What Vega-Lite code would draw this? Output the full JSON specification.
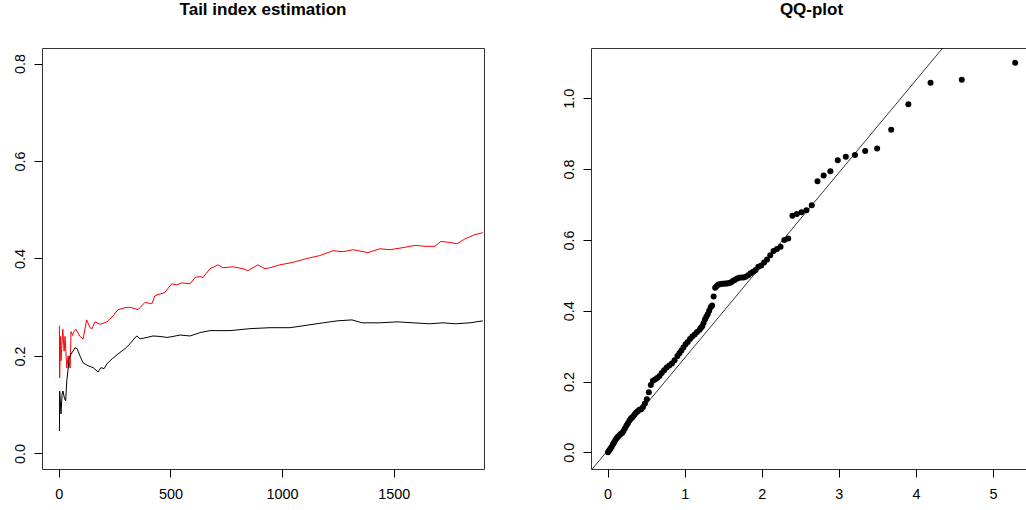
{
  "$schema": "https://vega.github.io/schema/vega-lite/v6.json",
  "autosize": {"type": "none"},
  "padding": {"left": 42, "top": 48, "right": 984, "bottom": 462},
  "background": "white",
  "spacing": 107,
  "bounds": "flush",
  "config": {
    "view": {"stroke": "#333333", "strokeWidth": 1},
    "font": "Liberation Sans",
    "axis": {
      "grid": false,
      "domain": false,
      "ticks": true,
      "tickColor": "#000000",
      "tickSize": 8,
      "labelColor": "#000000",
      "labelFont": "Liberation Sans",
      "labelFontSize": 14.4,
      "labelPadding": 10,
      "title": null
    },
    "title": {"font": "Liberation Sans", "fontSize": 17, "fontWeight": "bold", "color": "#000000", "anchor": "middle", "baseline": "alphabetic", "offset": 29}
  },
  "datasets": {
    "tail": [
      {"k": 3, "xi": 0.262, "series": "red"},
      {"k": 4, "xi": 0.155, "series": "red"},
      {"k": 8, "xi": 0.24, "series": "red"},
      {"k": 10, "xi": 0.19, "series": "red"},
      {"k": 18, "xi": 0.255, "series": "red"},
      {"k": 24, "xi": 0.21, "series": "red"},
      {"k": 28, "xi": 0.24, "series": "red"},
      {"k": 36, "xi": 0.175, "series": "red"},
      {"k": 42, "xi": 0.2, "series": "red"},
      {"k": 51, "xi": 0.175, "series": "red"},
      {"k": 55, "xi": 0.25, "series": "red"},
      {"k": 62, "xi": 0.242, "series": "red"},
      {"k": 68, "xi": 0.25, "series": "red"},
      {"k": 77, "xi": 0.255, "series": "red"},
      {"k": 95, "xi": 0.24, "series": "red"},
      {"k": 109, "xi": 0.235, "series": "red"},
      {"k": 125, "xi": 0.274, "series": "red"},
      {"k": 140, "xi": 0.258, "series": "red"},
      {"k": 149, "xi": 0.256, "series": "red"},
      {"k": 162, "xi": 0.27, "series": "red"},
      {"k": 185, "xi": 0.265, "series": "red"},
      {"k": 216, "xi": 0.27, "series": "red"},
      {"k": 243, "xi": 0.282, "series": "red"},
      {"k": 265, "xi": 0.295, "series": "red"},
      {"k": 297, "xi": 0.299, "series": "red"},
      {"k": 319, "xi": 0.3, "series": "red"},
      {"k": 355, "xi": 0.295, "series": "red"},
      {"k": 386, "xi": 0.31, "series": "red"},
      {"k": 417, "xi": 0.307, "series": "red"},
      {"k": 431, "xi": 0.324, "series": "red"},
      {"k": 474, "xi": 0.33, "series": "red"},
      {"k": 506, "xi": 0.348, "series": "red"},
      {"k": 528, "xi": 0.346, "series": "red"},
      {"k": 552, "xi": 0.35, "series": "red"},
      {"k": 588, "xi": 0.348, "series": "red"},
      {"k": 610, "xi": 0.361, "series": "red"},
      {"k": 633, "xi": 0.363, "series": "red"},
      {"k": 646, "xi": 0.361, "series": "red"},
      {"k": 677, "xi": 0.379, "series": "red"},
      {"k": 713, "xi": 0.387, "series": "red"},
      {"k": 735, "xi": 0.381, "series": "red"},
      {"k": 780, "xi": 0.383, "series": "red"},
      {"k": 825, "xi": 0.379, "series": "red"},
      {"k": 847, "xi": 0.375, "series": "red"},
      {"k": 892, "xi": 0.387, "series": "red"},
      {"k": 923, "xi": 0.379, "series": "red"},
      {"k": 945, "xi": 0.381, "series": "red"},
      {"k": 990, "xi": 0.387, "series": "red"},
      {"k": 1048, "xi": 0.392, "series": "red"},
      {"k": 1111, "xi": 0.4, "series": "red"},
      {"k": 1169, "xi": 0.406, "series": "red"},
      {"k": 1228, "xi": 0.416, "series": "red"},
      {"k": 1273, "xi": 0.414, "series": "red"},
      {"k": 1317, "xi": 0.418, "series": "red"},
      {"k": 1384, "xi": 0.412, "series": "red"},
      {"k": 1438, "xi": 0.42, "series": "red"},
      {"k": 1483, "xi": 0.418, "series": "red"},
      {"k": 1550, "xi": 0.423, "series": "red"},
      {"k": 1595, "xi": 0.427, "series": "red"},
      {"k": 1640, "xi": 0.425, "series": "red"},
      {"k": 1684, "xi": 0.425, "series": "red"},
      {"k": 1711, "xi": 0.435, "series": "red"},
      {"k": 1751, "xi": 0.433, "series": "red"},
      {"k": 1783, "xi": 0.43, "series": "red"},
      {"k": 1818, "xi": 0.44, "series": "red"},
      {"k": 1863, "xi": 0.449, "series": "red"},
      {"k": 1899, "xi": 0.453, "series": "red"},
      {"k": 3, "xi": 0.046, "series": "black"},
      {"k": 4, "xi": 0.128, "series": "black"},
      {"k": 7, "xi": 0.108, "series": "black"},
      {"k": 10, "xi": 0.081, "series": "black"},
      {"k": 15, "xi": 0.122, "series": "black"},
      {"k": 19, "xi": 0.128, "series": "black"},
      {"k": 26, "xi": 0.112, "series": "black"},
      {"k": 31, "xi": 0.108, "series": "black"},
      {"k": 36, "xi": 0.149, "series": "black"},
      {"k": 42, "xi": 0.173, "series": "black"},
      {"k": 47, "xi": 0.196, "series": "black"},
      {"k": 55, "xi": 0.204, "series": "black"},
      {"k": 64, "xi": 0.21, "series": "black"},
      {"k": 73, "xi": 0.217, "series": "black"},
      {"k": 82, "xi": 0.215, "series": "black"},
      {"k": 95, "xi": 0.2, "series": "black"},
      {"k": 109, "xi": 0.186, "series": "black"},
      {"k": 131, "xi": 0.18, "series": "black"},
      {"k": 154, "xi": 0.176, "series": "black"},
      {"k": 176, "xi": 0.167, "series": "black"},
      {"k": 189, "xi": 0.176, "series": "black"},
      {"k": 203, "xi": 0.174, "series": "black"},
      {"k": 216, "xi": 0.184, "series": "black"},
      {"k": 239, "xi": 0.194, "series": "black"},
      {"k": 265, "xi": 0.204, "series": "black"},
      {"k": 297, "xi": 0.215, "series": "black"},
      {"k": 319, "xi": 0.225, "series": "black"},
      {"k": 342, "xi": 0.238, "series": "black"},
      {"k": 350, "xi": 0.241, "series": "black"},
      {"k": 364, "xi": 0.235, "series": "black"},
      {"k": 395, "xi": 0.238, "series": "black"},
      {"k": 422, "xi": 0.241, "series": "black"},
      {"k": 453, "xi": 0.24, "series": "black"},
      {"k": 485, "xi": 0.238, "series": "black"},
      {"k": 512, "xi": 0.24, "series": "black"},
      {"k": 543, "xi": 0.243, "series": "black"},
      {"k": 588, "xi": 0.241, "series": "black"},
      {"k": 633, "xi": 0.248, "series": "black"},
      {"k": 677, "xi": 0.252, "series": "black"},
      {"k": 767, "xi": 0.252, "series": "black"},
      {"k": 856, "xi": 0.256, "series": "black"},
      {"k": 946, "xi": 0.258, "series": "black"},
      {"k": 1035, "xi": 0.258, "series": "black"},
      {"k": 1125, "xi": 0.264, "series": "black"},
      {"k": 1184, "xi": 0.268, "series": "black"},
      {"k": 1246, "xi": 0.272, "series": "black"},
      {"k": 1313, "xi": 0.274, "series": "black"},
      {"k": 1358, "xi": 0.268, "series": "black"},
      {"k": 1438, "xi": 0.268, "series": "black"},
      {"k": 1515, "xi": 0.27, "series": "black"},
      {"k": 1586, "xi": 0.268, "series": "black"},
      {"k": 1662, "xi": 0.266, "series": "black"},
      {"k": 1720, "xi": 0.268, "series": "black"},
      {"k": 1774, "xi": 0.266, "series": "black"},
      {"k": 1841, "xi": 0.268, "series": "black"},
      {"k": 1899, "xi": 0.272, "series": "black"}
    ],
    "qq": [
      {"theo": 0.005, "emp": 0.0},
      {"theo": 0.02, "emp": 0.005},
      {"theo": 0.036, "emp": 0.01},
      {"theo": 0.052, "emp": 0.015},
      {"theo": 0.068, "emp": 0.022},
      {"theo": 0.084, "emp": 0.028},
      {"theo": 0.101, "emp": 0.035},
      {"theo": 0.118, "emp": 0.04},
      {"theo": 0.135, "emp": 0.044},
      {"theo": 0.152, "emp": 0.048},
      {"theo": 0.17, "emp": 0.052},
      {"theo": 0.188, "emp": 0.055},
      {"theo": 0.207, "emp": 0.06},
      {"theo": 0.226, "emp": 0.068},
      {"theo": 0.245, "emp": 0.076},
      {"theo": 0.264, "emp": 0.082},
      {"theo": 0.284, "emp": 0.09},
      {"theo": 0.305, "emp": 0.096},
      {"theo": 0.325, "emp": 0.1},
      {"theo": 0.347, "emp": 0.106},
      {"theo": 0.368, "emp": 0.112},
      {"theo": 0.39, "emp": 0.116},
      {"theo": 0.413, "emp": 0.12},
      {"theo": 0.436, "emp": 0.122},
      {"theo": 0.46, "emp": 0.128},
      {"theo": 0.484, "emp": 0.138},
      {"theo": 0.509, "emp": 0.15},
      {"theo": 0.535, "emp": 0.17},
      {"theo": 0.561, "emp": 0.19},
      {"theo": 0.588, "emp": 0.202},
      {"theo": 0.615, "emp": 0.206},
      {"theo": 0.644, "emp": 0.21},
      {"theo": 0.673, "emp": 0.216},
      {"theo": 0.703, "emp": 0.224},
      {"theo": 0.734, "emp": 0.232},
      {"theo": 0.766, "emp": 0.24},
      {"theo": 0.8, "emp": 0.245},
      {"theo": 0.834, "emp": 0.251},
      {"theo": 0.869, "emp": 0.26},
      {"theo": 0.906, "emp": 0.272},
      {"theo": 0.932, "emp": 0.28},
      {"theo": 0.958, "emp": 0.288},
      {"theo": 0.984, "emp": 0.296},
      {"theo": 1.012, "emp": 0.305},
      {"theo": 1.04, "emp": 0.312},
      {"theo": 1.069, "emp": 0.32},
      {"theo": 1.099, "emp": 0.327},
      {"theo": 1.129, "emp": 0.333},
      {"theo": 1.161, "emp": 0.34},
      {"theo": 1.194, "emp": 0.346},
      {"theo": 1.211, "emp": 0.352},
      {"theo": 1.228, "emp": 0.356},
      {"theo": 1.245, "emp": 0.365},
      {"theo": 1.263, "emp": 0.375},
      {"theo": 1.281, "emp": 0.383},
      {"theo": 1.299, "emp": 0.39},
      {"theo": 1.318, "emp": 0.4},
      {"theo": 1.337, "emp": 0.41},
      {"theo": 1.356, "emp": 0.415},
      {"theo": 1.376, "emp": 0.44},
      {"theo": 1.396, "emp": 0.465},
      {"theo": 1.417, "emp": 0.47},
      {"theo": 1.438, "emp": 0.474},
      {"theo": 1.46, "emp": 0.475},
      {"theo": 1.482, "emp": 0.476},
      {"theo": 1.504, "emp": 0.476},
      {"theo": 1.527, "emp": 0.477},
      {"theo": 1.551, "emp": 0.477},
      {"theo": 1.575, "emp": 0.478},
      {"theo": 1.599, "emp": 0.48},
      {"theo": 1.624, "emp": 0.484},
      {"theo": 1.65, "emp": 0.487},
      {"theo": 1.677, "emp": 0.49},
      {"theo": 1.705, "emp": 0.493},
      {"theo": 1.733, "emp": 0.494},
      {"theo": 1.762, "emp": 0.494},
      {"theo": 1.792, "emp": 0.496},
      {"theo": 1.823, "emp": 0.5},
      {"theo": 1.855, "emp": 0.506},
      {"theo": 1.888, "emp": 0.51},
      {"theo": 1.921, "emp": 0.515},
      {"theo": 1.956, "emp": 0.524},
      {"theo": 1.993, "emp": 0.528},
      {"theo": 2.03, "emp": 0.536},
      {"theo": 2.069, "emp": 0.545},
      {"theo": 2.11, "emp": 0.557},
      {"theo": 2.153, "emp": 0.569},
      {"theo": 2.197, "emp": 0.574},
      {"theo": 2.244, "emp": 0.581},
      {"theo": 2.293, "emp": 0.6},
      {"theo": 2.344, "emp": 0.604},
      {"theo": 2.398, "emp": 0.668},
      {"theo": 2.455, "emp": 0.673},
      {"theo": 2.516, "emp": 0.678},
      {"theo": 2.58, "emp": 0.684},
      {"theo": 2.649, "emp": 0.698},
      {"theo": 2.723, "emp": 0.766},
      {"theo": 2.803, "emp": 0.782},
      {"theo": 2.89, "emp": 0.794},
      {"theo": 2.986, "emp": 0.825},
      {"theo": 3.091, "emp": 0.835},
      {"theo": 3.209, "emp": 0.84},
      {"theo": 3.342, "emp": 0.851},
      {"theo": 3.497, "emp": 0.858},
      {"theo": 3.679, "emp": 0.911},
      {"theo": 3.902, "emp": 0.983},
      {"theo": 4.19, "emp": 1.044},
      {"theo": 4.595, "emp": 1.052},
      {"theo": 5.288, "emp": 1.1}
    ],
    "ref": [
      {"x1": -0.3, "y1": -0.0735, "x2": 4.6, "y2": 1.208}
    ]
  },
  "hconcat": [
    {
      "title": "Tail index estimation",
      "width": 442,
      "height": 421,
      "data": {"name": "tail"},
      "mark": {"type": "line", "strokeWidth": 1, "clip": true, "interpolate": "linear"},
      "encoding": {
        "x": {"field": "k", "type": "quantitative", "scale": {"domain": [-75, 1904], "nice": false, "zero": false},
              "axis": {"values": [0, 500, 1000, 1500], "format": "d"}},
        "y": {"field": "xi", "type": "quantitative", "scale": {"domain": [-0.032, 0.832], "nice": false, "zero": false},
              "axis": {"values": [0, 0.2, 0.4, 0.6, 0.8], "format": ".1f", "labelAngle": -90, "labelAlign": "center", "labelBaseline": "alphabetic"}},
        "color": {"field": "series", "type": "nominal", "scale": {"domain": ["black", "red"], "range": ["#000000", "#ff0000"]}, "legend": null},
        "order": {"field": "k", "type": "quantitative"}
      }
    },
    {
      "title": "QQ-plot",
      "width": 441,
      "height": 421,
      "layer": [
        {
          "data": {"name": "ref"},
          "mark": {"type": "rule", "color": "#000000", "strokeWidth": 0.8, "clip": true},
          "encoding": {
            "x": {"field": "x1", "type": "quantitative", "scale": {"domain": [-0.215, 5.506], "nice": false, "zero": false},
                  "axis": {"values": [0, 1, 2, 3, 4, 5], "format": "d"}},
            "y": {"field": "y1", "type": "quantitative", "scale": {"domain": [-0.047, 1.142], "nice": false, "zero": false},
                  "axis": {"values": [0, 0.2, 0.4, 0.6, 0.8, 1.0], "format": ".1f", "labelAngle": -90, "labelAlign": "center", "labelBaseline": "alphabetic"}},
            "x2": {"field": "x2"},
            "y2": {"field": "y2"}
          }
        },
        {
          "data": {"name": "qq"},
          "mark": {"type": "circle", "size": 36, "color": "#000000", "opacity": 1, "clip": true},
          "encoding": {
            "x": {"field": "theo", "type": "quantitative"},
            "y": {"field": "emp", "type": "quantitative"}
          }
        }
      ]
    }
  ]
}
